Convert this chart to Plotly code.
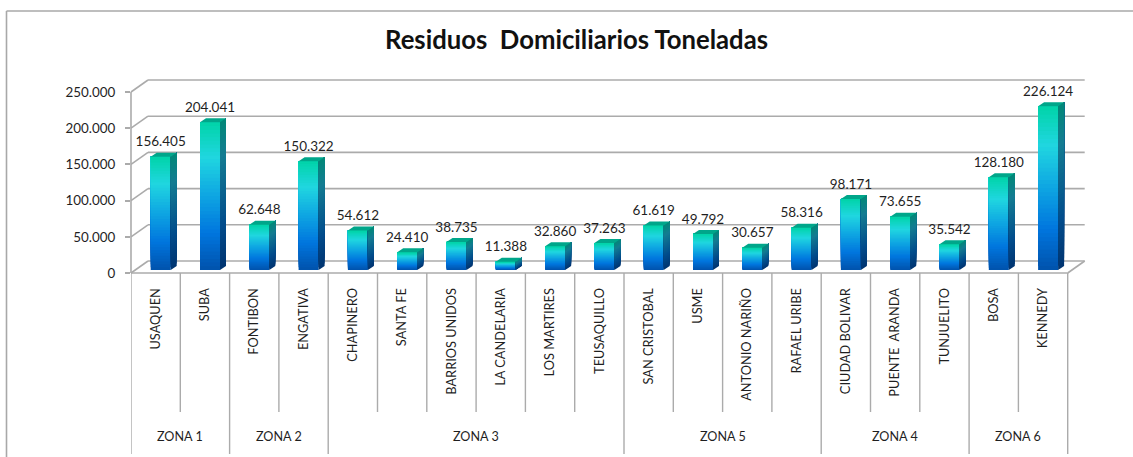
import plotly.graph_objects as go

categories = ["USAQUEN", "SUBA", "FONTIBON", "ENGATIVA", "CHAPINERO", "SANTA FE", "BARRIOS UNIDOS",
              "LA CANDELARIA", "LOS MARTIRES", "TEUSAQUILLO", "SAN CRISTOBAL", "USME", "ANTONIO NARIÑO",
              "RAFAEL URIBE", "CIUDAD BOLIVAR", "PUENTE\u00a0\u00a0ARANDA", "TUNJUELITO", "BOSA", "KENNEDY"]
values = [156405, 204041, 62648, 150322, 54612, 24410, 38735, 11388, 32860, 37263,
          61619, 49792, 30657, 58316, 98171, 73655, 35542, 128180, 226124]
zone_names = ["ZONA 1", "ZONA 2", "ZONA 3", "ZONA 5", "ZONA 4", "ZONA 6"]
zone_sizes = [2, 2, 6, 4, 3, 2]
y_ticks = [0, 50000, 100000, 150000, 200000, 250000]
title_text = "Residuos\u00a0\u00a0Domiciliarios\u00a0Toneladas"

FONT = "Lato"
TEXT = "#1f1f1f"
GRID = "#ababab"

# pixel geometry of the frame
W, H = 1133, 457
X0, Y0 = 131, 273
STEP = 49.3
PX_Y = 250000 / 181
TOP, RIGHT = 60, 1100
n = len(categories)
X_RANGE = [-0.5, -0.5 + (RIGHT - X0) / STEP]
Y_RANGE = [0, (Y0 - TOP) * PX_Y]


def dx(p):
    return p / STEP


def dy(p):
    return p * PX_Y


def py(p):
    """paper y for a page pixel row"""
    return (Y0 - p) / (Y0 - TOP)


def xpaper(x):
    return (x - X_RANGE[0]) / (X_RANGE[1] - X_RANGE[0])


def ypaper(y):
    return y / Y_RANGE[1]


def lerp_stops(stops, t):
    for (t0, c0), (t1, c1) in zip(stops, stops[1:]):
        if t <= t1:
            f = (t - t0) / (t1 - t0)
            return "rgb(%d,%d,%d)" % tuple(round(a + (b - a) * f) for a, b in zip(c0, c1))
    return "rgb(%d,%d,%d)" % stops[-1][1]


FRONT = [(0, (0, 82, 172)), (0.25, (0, 118, 222)), (0.5, (14, 165, 226)),
         (0.76, (32, 214, 224)), (1, (0, 212, 168))]
SIDE = [(0, (0, 52, 112)), (0.3, (2, 76, 140)), (0.76, (20, 124, 146)), (1, (2, 136, 120))]
TOPFACE = "#00a68a"

BAR_W = dx(20)
BAR_OFF = dx(19.7 - STEP / 2)
BASE = dy(3)
SD_X, SD_Y = dx(6), dy(4)
SLICES = 40

fig = go.Figure()

xs = [i + BAR_OFF for i in range(n)]
xe = [x + BAR_W for x in xs]

# side faces: each band runs from its level to the bar top, so later bands overpaint without seams
for s in range(SLICES):
    a = s / SLICES
    col = lerp_stops(SIDE, (s + 0.5) / SLICES)
    px_, py_ = [], []
    for i, v in enumerate(values):
        v0, v1 = BASE + v * a, BASE + v
        px_ += [xe[i], xe[i] + SD_X, xe[i] + SD_X, xe[i], xe[i], None]
        py_ += [v0, v0 + SD_Y, v1 + SD_Y, v1, v0, None]
    fig.add_trace(go.Scatter(x=px_, y=py_, mode="lines", fill="toself", fillcolor=col,
                             line=dict(color=col, width=0), hoverinfo="skip"))

# top faces
tx, ty = [], []
for i, v in enumerate(values):
    v1 = BASE + v
    tx += [xs[i], xs[i] + SD_X, xe[i] + SD_X, xe[i], xs[i], None]
    ty += [v1, v1 + SD_Y, v1 + SD_Y, v1, v1, None]
fig.add_trace(go.Scatter(x=tx, y=ty, mode="lines", fill="toself", fillcolor=TOPFACE,
                         line=dict(color=TOPFACE, width=0), hoverinfo="skip"))

# front faces: the bars, overpainted band by band for the gradient
for s in range(SLICES):
    a = s / SLICES
    fig.add_trace(go.Bar(x=list(range(n)), y=[v * (1 - a) for v in values],
                         base=[BASE + v * a for v in values],
                         width=BAR_W, offset=BAR_OFF,
                         marker=dict(color=lerp_stops(FRONT, (s + 0.5) / SLICES), line=dict(width=0)),
                         hoverinfo="skip"))

# value labels
label_txt = [f"{v:,}".replace(",", ".") for v in values]
fig.add_trace(go.Scatter(x=[x + BAR_W / 2 for x in xs], y=[BASE + v + dy(7) for v in values],
                         mode="text", text=label_txt, textposition="top center",
                         textfont=dict(family=FONT, size=13.5, color=TEXT),
                         cliponaxis=False, hoverinfo="skip"))

# walls, floor and gridlines sit behind the traces
DX, DY = dx(17), dy(12)
left = -0.5
right = left + n


def seg(x0, y0, x1, y1, color=GRID, width=1.6):
    return dict(type="line", xref="paper", yref="paper", layer="below",
                x0=xpaper(x0), y0=ypaper(y0), x1=xpaper(x1), y1=ypaper(y1),
                line=dict(color=color, width=width))


shapes = []
for t in y_ticks:
    shapes.append(seg(left, t, left + DX, t + DY))
    shapes.append(seg(left + DX, t + DY, right + DX, t + DY))
shapes.append(seg(left, 0, left, 250000))
shapes.append(seg(left, 0, right, 0))
shapes.append(seg(right, 0, right + DX, DY))

shapes += [
    dict(type="line", xref="paper", yref="paper",
         x0=(6.5 - X0) / (RIGHT - X0), x1=(W - X0) / (RIGHT - X0), y0=py(11), y1=py(11),
         line=dict(color="#a8a8a8", width=1.6)),
    dict(type="line", xref="paper", yref="paper",
         x0=(6.5 - X0) / (RIGHT - X0), x1=(6.5 - X0) / (RIGHT - X0), y0=py(11), y1=py(H),
         line=dict(color="#a8a8a8", width=1.6)),
]
zone_edges = [0]
for z in zone_sizes:
    zone_edges.append(zone_edges[-1] + z)
for i in range(n + 1):
    end = 454 if i in zone_edges else 412
    shapes.append(dict(type="line", xref="x", yref="paper", x0=i - 0.5, x1=i - 0.5,
                       y0=0, y1=py(end), line=dict(color=GRID, width=1.4)))

annotations = []
for name, a, b in zip(zone_names, zone_edges, zone_edges[1:]):
    annotations.append(dict(text=name, xref="x", yref="paper", x=(a + b) / 2 - 0.5, y=py(436),
                            showarrow=False, yanchor="middle",
                            font=dict(family=FONT, size=12.6, color=TEXT)))
annotations.append(dict(text=f"<b>{title_text}</b>", xref="paper", yref="paper",
                        x=(576 - X0) / (RIGHT - X0), y=py(39), showarrow=False, yanchor="middle",
                        font=dict(family=FONT, size=25.7, color="#111111")))

fig.update_layout(
    width=W, height=H, autosize=False, showlegend=False, barmode="overlay",
    paper_bgcolor="white", plot_bgcolor="white", separators=",.",
    margin=dict(l=X0, r=W - RIGHT, t=TOP, b=H - Y0, pad=0),
    shapes=shapes, annotations=annotations,
    xaxis=dict(range=X_RANGE, showgrid=False, zeroline=False, showline=False,
               tickmode="array", tickvals=list(range(n)), ticktext=categories, tickangle=-90,
               ticks="outside", ticklen=9, tickcolor="rgba(0,0,0,0)",
               tickfont=dict(family=FONT, size=12.8, color=TEXT)),
    yaxis=dict(range=Y_RANGE, showgrid=False, zeroline=False, showline=False,
               tickmode="array", tickvals=y_ticks, tickformat=",d",
               ticks="outside", ticklen=5, tickcolor=GRID, tickwidth=1.6,
               ticklabelstandoff=7,
               tickfont=dict(family=FONT, size=13.4, color=TEXT)),
)

fig.write_html("out.html", config={"displayModeBar": False, "responsive": False},
               post_script="document.body.style.margin='0';document.body.style.overflow='hidden';")
